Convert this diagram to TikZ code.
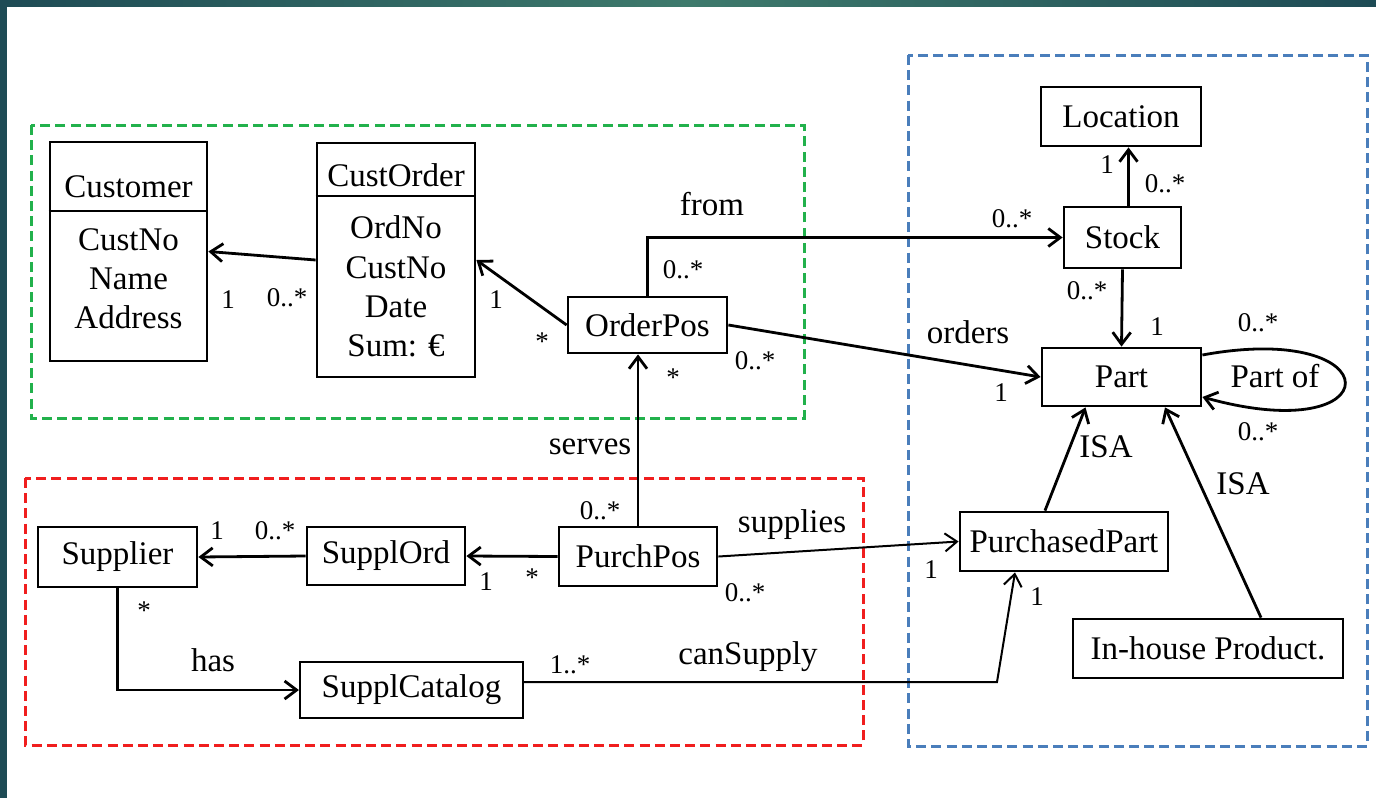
\documentclass[tikz,border=0pt]{standalone}
\usepackage{fontspec}
\setmainfont{Liberation Serif}
\usetikzlibrary{arrows.meta, calc}

\definecolor{frame}{HTML}{1E4B55}
\definecolor{framelight}{HTML}{3E7A6C}
\definecolor{areagreen}{HTML}{22B14C}
\definecolor{areared}{HTML}{F01E1E}
\definecolor{areablue}{HTML}{4A7EBB}

\newcommand{\boxfont}{\fontsize{16.5}{19.6}\selectfont}
\newcommand{\multfont}{\fontsize{13.5}{16}\selectfont}

\tikzset{
    entity/.style={
        rectangle, draw=black, line width=1.4pt,
        fill=white, font=\boxfont, inner sep=0pt
    },
    attrs/.style={font=\boxfont, align=center, inner sep=0pt},
    divider/.style={draw=black, line width=1pt},
    assoc/.style={draw=black, line width=1.4pt, -{Straight Barb[length=6pt,width=9pt]}},
    thinassoc/.style={assoc, line width=1pt},
    mult/.style={font=\multfont, inner sep=0pt},
    role/.style={font=\boxfont, inner sep=0pt},
    area/.style={line width=1.5pt, dash pattern=on 5pt off 2.6pt}
}

\begin{document}
\begin{tikzpicture}[x=0.5pt, y=-0.5pt]
\useasboundingbox (0,0) rectangle (1376,798);

% slide frame
\fill[frame] (0,0) rectangle (7,798);
\shade[left color=frame, right color=frame, middle color=framelight] (0,0) rectangle (1376,6);

% package areas
\draw[area, draw=areagreen] (31,125) rectangle (804,418);
\draw[area, draw=areared] (25,478) rectangle (863,745);
\draw[area, draw=areablue] (908,55) rectangle (1367,746);

% Sales: classes with attributes
\node[entity, minimum width=78.5pt, minimum height=109.5pt] (customer) at (128.5,251.5) {};
\node[role] (customer-title) at (128.5,187) {Customer};
\draw[divider] ($(customer.north west)+(0,70)$) -- ($(customer.north east)+(0,70)$);
\node[attrs] (customer-attrs) at (128.5,279) {CustNo\\Name\\Address};

\node[entity, minimum width=79pt, minimum height=117pt] (custorder) at (396,260) {};
\node[role] (custorder-title) at (396,175) {CustOrder};
\draw[divider] ($(custorder.north west)+(0,54)$) -- ($(custorder.north east)+(0,54)$);
\node[attrs] (custorder-attrs) at (396,286.5) {OrdNo\\CustNo\\Date\\Sum: €};

\node[entity, minimum width=79.5pt, minimum height=28pt] (orderpos) at (647.5,325) {OrderPos};

% Stock and parts
\node[entity, minimum width=80pt, minimum height=29.5pt] (location) at (1121,116.5) {Location};
\node[entity, minimum width=58.5pt, minimum height=30.5pt] (stock) at (1122.5,237.5) {Stock};
\node[entity, minimum width=79.5pt, minimum height=29pt] (part) at (1121.5,377) {Part};
\node[entity, minimum width=104pt, minimum height=29.5pt] (purchpart) at (1064,541.5) {PurchasedPart};
\node[entity, minimum width=135pt, minimum height=29.5pt] (inhouse) at (1208,648.5) {In-house Product.};

% Purchasing
\node[entity, minimum width=79.5pt, minimum height=30pt] (supplier) at (117.5,557) {Supplier};
\node[entity, minimum width=79pt, minimum height=29pt] (supplord) at (386,556) {SupplOrd};
\node[entity, minimum width=79pt, minimum height=29.5pt] (purchpos) at (638,556.5) {PurchPos};
\node[entity, line width=1.1pt, minimum width=111.5pt, minimum height=28pt] (supplcat) at (411.5,690) {SupplCatalog};
\coordinate (canbend) at (997,682);

% Associations
\draw[assoc] (custorder.west) -- (customer.east);
\draw[assoc] (orderpos.west) -- (custorder.east);
\draw[assoc] (orderpos.north) |- (stock.west);
\draw[assoc] (orderpos.east) -- (part.west);
\draw[assoc] (purchpos.north) -- (purchpos.north |- orderpos.south);
\draw[assoc] ([xshift=3pt]stock.north) -- ([xshift=3pt]stock.north |- location.south);
\draw[assoc] (stock.south) -- (part.north);
\draw[assoc] ([yshift=11pt]part.east) .. controls +(190,-35) and +(190,53) .. ([yshift=-10pt]part.east);
\draw[assoc] ([xshift=-9.5pt]purchpart.north) -- ([xshift=-18pt]part.south);
\draw[assoc] ([xshift=26.5pt]inhouse.north) -- ([xshift=21.75pt]part.south);
\draw[assoc] (supplord.west) -- (supplier.east);
\draw[assoc] (purchpos.west) -- (supplord.east);
\draw[thinassoc] (purchpos.east) -- (purchpart.west);
\draw[assoc] (supplier.south) |- (supplcat.west);
\draw[thinassoc] ([yshift=4pt]supplcat.east) -- (canbend) -- ([xshift=-24.5pt]purchpart.south);

% Role names
\node[role] (from-label) at (712,204) {from};
\node[role] (orders-label) at (968,332) {orders};
\node[role] (serves-label) at (590,447) {serves};
\node[role] (partof-label) at (1275,376) {Part of};
\node[role] (isa-left) at (1106,447) {ISA};
\node[role] (isa-right) at (1243,484) {ISA};
\node[role] (supplies-label) at (792,525) {supplies};
\node[role] (has-label) at (213,660) {has};
\node[role] (cansupply-label) at (748,657) {canSupply};

% Multiplicities
\node[mult] (m1) at (228,300) {1};
\node[mult] (m2) at (287,298) {0..*};
\node[mult] (m3) at (496,300) {1};
\node[mult] (m4) at (542,342) {*};
\node[mult] (m5) at (683,270) {0..*};
\node[mult] (m6) at (1012,219) {0..*};
\node[mult] (m7) at (755,361) {0..*};
\node[mult] (m8) at (1001,393) {1};
\node[mult] (m9) at (673,378) {*};
\node[mult] (m10) at (600,511) {0..*};
\node[mult] (m11) at (1107,165) {1};
\node[mult] (m12) at (1165,184) {0..*};
\node[mult] (m13) at (1087,291) {0..*};
\node[mult] (m14) at (1157,327) {1};
\node[mult] (m15) at (1258,323) {0..*};
\node[mult] (m16) at (1258,432) {0..*};
\node[mult] (m17) at (217,531) {1};
\node[mult] (m18) at (275,531) {0..*};
\node[mult] (m19) at (486,582) {1};
\node[mult] (m20) at (532,578) {*};
\node[mult] (m21) at (745,593) {0..*};
\node[mult] (m22) at (931,570) {1};
\node[mult] (m23) at (144,611) {*};
\node[mult] (m24) at (570,665) {1..*};
\node[mult] (m25) at (1037,597) {1};

\end{tikzpicture}
\end{document}
